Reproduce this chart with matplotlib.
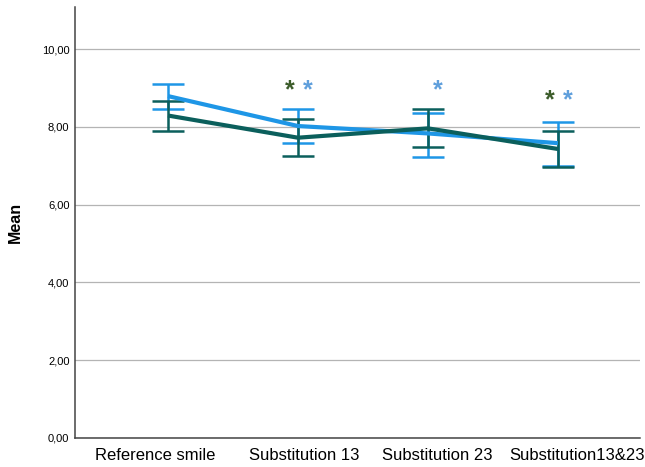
"""Mean scores per smile condition with error bars"""
import numpy as np
import matplotlib.pyplot as plt

plt.rcParams["font.family"] = ["Liberation Sans", "DejaVu Sans"]

categories = ["Reference smile", "Substitution 13", "Substitution 23", "Substitution13&23"]

# series means and error bar limits
blue_mean = [8.79, 8.02, 7.83, 7.58]
blue_upper = [9.10, 8.45, 8.35, 8.12]
blue_lower = [8.46, 7.59, 7.23, 6.98]

green_mean = [8.29, 7.72, 7.96, 7.43]
green_upper = [8.67, 8.21, 8.45, 7.90]
green_lower = [7.89, 7.25, 7.49, 6.97]

# significance markers: (category index, height, series)
stars = [(1, 8.95, "green"), (1, 8.95, "blue"), (2, 8.95, "blue"),
         (3, 8.68, "green"), (3, 8.68, "blue")]

yticks = [0, 2, 4, 6, 8, 10]
ytick_labels = ["0,00", "2,00", "4,00", "6,00", "8,00", "10,00"]

blue = "#1e96e6"
green = "#0b5f5c"
star_colors = {"green": "#3c5c2a", "blue": "#5f9fdc"}
star_offset = {"green": -0.065, "blue": 0.075}
# category labels are spread a bit wider than the data columns
label_shift = [-0.10, 0.046, 0.069, 0.146]

fig = plt.figure(figsize=(6.45, 4.67), dpi=100)
ax = fig.add_axes([0.1163, 0.0621, 0.8757, 0.9229])

x = np.arange(len(categories))

for mean, lo, hi, col, z in [(blue_mean, blue_lower, blue_upper, blue, 3),
                             (green_mean, green_lower, green_upper, green, 4)]:
    mean = np.array(mean)
    err = [mean - np.array(lo), np.array(hi) - mean]
    ax.errorbar(x, mean, yerr=err, fmt="none", ecolor=col, elinewidth=1.8,
                capsize=11.5, capthick=1.8, zorder=z)
    ax.plot(x, mean, color=col, lw=3, zorder=z + 2, solid_capstyle="butt")

for i, h, s in stars:
    ax.text(x[i] + star_offset[s], h, "*", color=star_colors[s], fontsize=18,
            fontweight="bold", ha="center", va="center")

ax.set_xlim(-0.715, 3.63)
ax.set_ylim(0, 11.08)
ax.set_yticks(yticks)
ax.set_yticklabels(ytick_labels, fontsize=8)
ax.set_xticks(x + np.array(label_shift))
ax.set_xticklabels(categories, fontsize=12)
ax.tick_params(axis="both", length=0, pad=4)
ax.tick_params(axis="x", pad=7)
ax.yaxis.grid(True, color="#b4b4b4", lw=0.9)
ax.set_axisbelow(True)
ax.set_ylabel("Mean", fontsize=11.5, fontweight="bold", labelpad=14)

for side in ["top", "right"]:
    ax.spines[side].set_visible(False)
for side in ["left", "bottom"]:
    ax.spines[side].set_color("#444444")
    ax.spines[side].set_linewidth(1.1)

fig.savefig("out.png", dpi=100)
